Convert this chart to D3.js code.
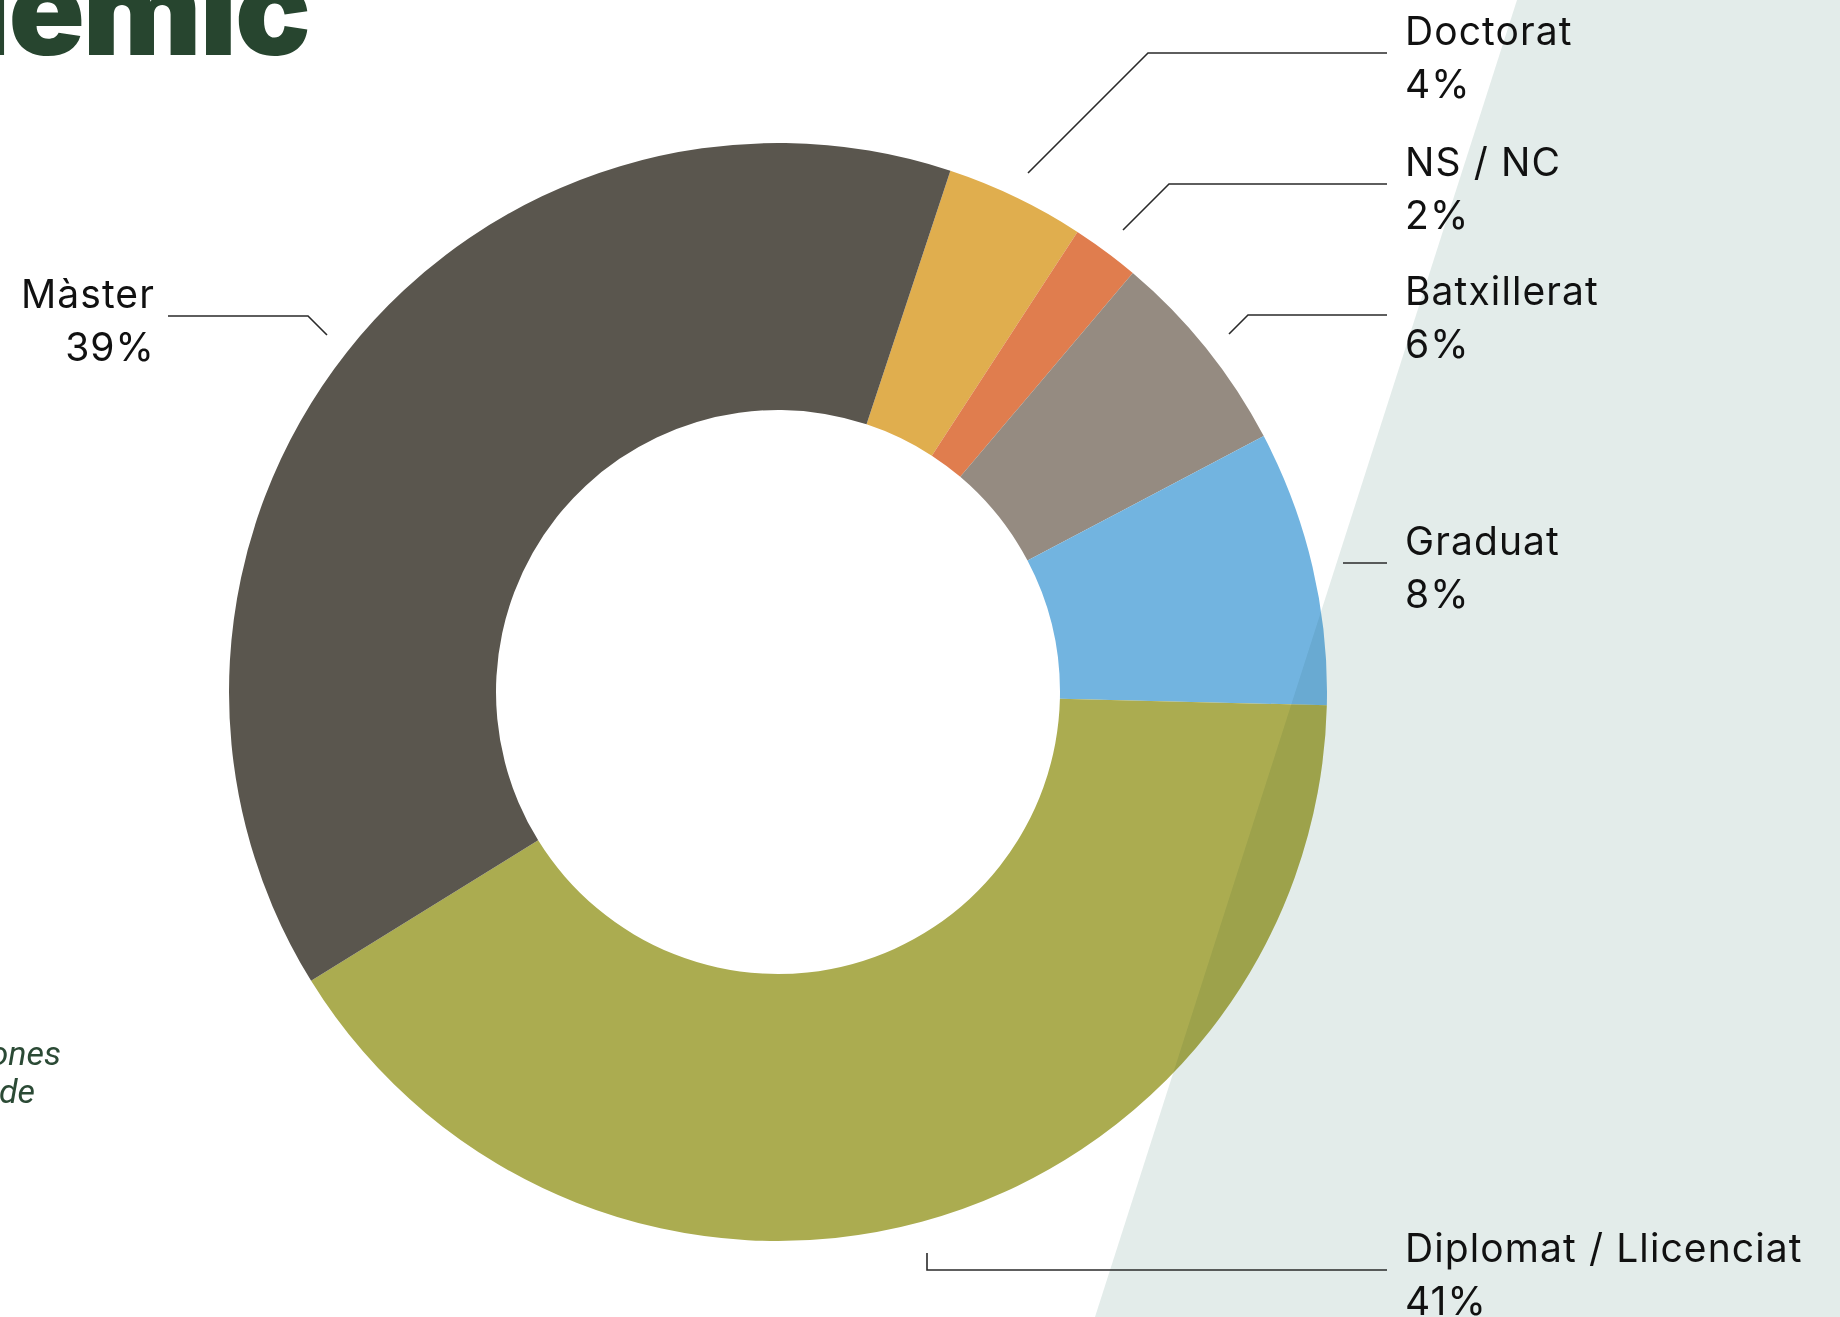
<!DOCTYPE html>
<html><head><meta charset="utf-8">
<script src="https://cdn.jsdelivr.net/npm/d3@7"></script>
<style>
html,body{margin:0;padding:0;background:#fff;overflow:hidden}
svg{display:block}
</style></head>
<body>
<svg id="chart" width="1840" height="1317"></svg>
<script>
// ---- data ----
const categories = ["Doctorat", "NS / NC", "Batxillerat", "Graduat", "Diplomat / Llicenciat", "Màster"];
const values = [4.1, 2.0, 6.1, 8.1, 40.8, 38.9];
const colors = ["#e0ae4e", "#e07d4e", "#958b81", "#72b4e0", "#abac50", "#5a564e"];
// label anchor (x, first baseline) and leader line points
const labelPos = [
  {x:1405, y:45, anchor:"start", line:[[1028,173],[1148,53],[1387,53]]},
  {x:1405, y:176, anchor:"start", line:[[1123,230],[1169,184],[1387,184]]},
  {x:1405, y:305, anchor:"start", line:[[1229,334],[1248,315],[1387,315]]},
  {x:1405, y:555, anchor:"start", line:[[1343,563],[1387,563]]},
  {x:1405, y:1262, anchor:"start", line:[[927,1253],[927,1270],[1387,1270]]},
  {x:155, y:308, anchor:"end", line:[[327,335],[308,316],[168,316]]}
];

const svg = d3.select("#chart");
const cx = 778, cy = 692, rOuter = 549, rInner = 282;
const start = 18.3 * Math.PI / 180;

// background diagonal band
const band = [[1517,0],[1840,0],[1840,1317],[1095,1317]];
svg.append("polygon").attr("points", band.map(p=>p.join(",")).join(" ")).attr("fill","#e3ecea");

// title fragment
svg.append("text").attr("x",309).attr("y",55).attr("text-anchor","end")
  .attr("font-family","Inter, 'Noto Sans', sans-serif").attr("font-weight",900)
  .attr("font-size",126).attr("fill","#27452f").attr("letter-spacing",-2).text("acadèmic");

// side note fragment
const note = svg.append("g").attr("font-family","Roboto, sans-serif").attr("font-style","italic")
  .attr("font-size",34).attr("fill","#2b4a35").attr("text-anchor","end");
note.append("text").attr("x",61).attr("y",1065).text("persones");
note.append("text").attr("x",35).attr("y",1103).text("de");

const pie = d3.pie().sort(null).value(d=>d).startAngle(start).endAngle(start + 2*Math.PI);
const arcs = pie(values);
const arc = d3.arc().innerRadius(rInner).outerRadius(rOuter);

const g = svg.append("g").attr("transform",`translate(${cx},${cy})`);
g.selectAll("path.slice").data(arcs).join("path").attr("class","slice")
  .attr("d",arc).attr("fill",(d,i)=>colors[i]);

// clip for band overlay on donut
const defs = svg.append("defs");
defs.append("clipPath").attr("id","donutClip")
  .selectAll("path").data(arcs).join("path")
  .attr("transform",`translate(${cx},${cy})`).attr("d",arc);
svg.append("polygon").attr("points", band.map(p=>p.join(",")).join(" "))
  .attr("fill","#e3ecea").style("mix-blend-mode","multiply").attr("opacity",0.75)
  .attr("clip-path","url(#donutClip)");

// leader lines
const lineGen = d3.line();
svg.selectAll("path.leader").data(labelPos).join("path").attr("class","leader")
  .attr("d",d=>lineGen(d.line)).attr("fill","none").attr("stroke","#2a2a2a").attr("stroke-width",1.6);

// labels
const fmt = d3.format(".0f");
const lab = svg.selectAll("g.lab").data(arcs).join("g").attr("class","lab")
  .attr("font-family","Inter, 'Noto Sans', sans-serif").attr("font-size",39)
  .attr("letter-spacing",1.1).attr("fill","#111");
lab.append("text").attr("x",(d,i)=>labelPos[i].x).attr("y",(d,i)=>labelPos[i].y)
  .attr("text-anchor",(d,i)=>labelPos[i].anchor).text((d,i)=>categories[i]);
lab.append("text").attr("x",(d,i)=>labelPos[i].x).attr("y",(d,i)=>labelPos[i].y+53)
  .attr("text-anchor",(d,i)=>labelPos[i].anchor).text(d=>fmt(d.value)+"%");
</script>
</body></html>
